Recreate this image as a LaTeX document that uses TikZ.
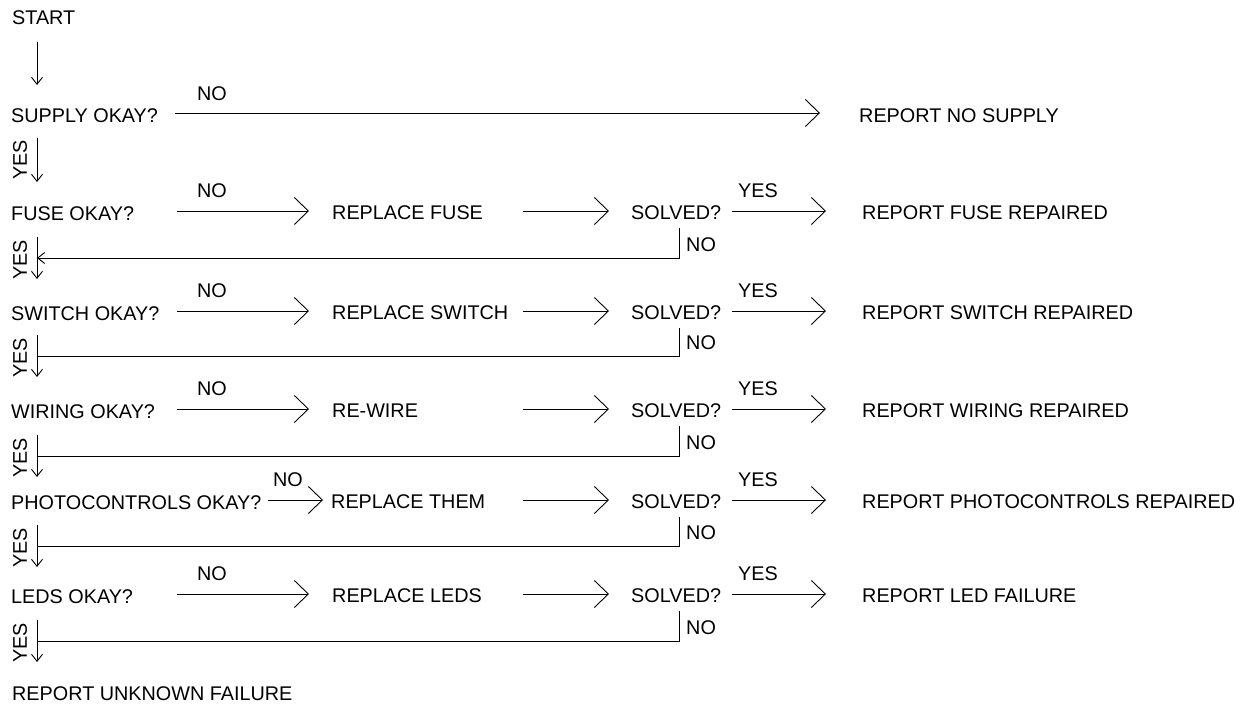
\documentclass[tikz,border=0pt]{standalone}
\usepackage{fontspec}
\setmainfont{Liberation Sans}
\usetikzlibrary{arrows.meta}
\newcommand\dfont{\fontsize{19.8}{24}\selectfont}
\begin{document}
\begin{tikzpicture}[x=1pt,y=-1pt,
  txt/.style={anchor=base west,inner sep=0pt,font=\dfont},
  yeslbl/.style={inner sep=0pt,font=\dfont,rotate=90},
  lnk/.style={line width=0.9pt},
  big/.style={lnk,-{Straight Barb[length=14pt,width=27pt]}},
  small/.style={lnk,-{Straight Barb[length=7pt,width=11pt]}}]
\useasboundingbox (0,0) rectangle (1247,704);
\node[txt] (start) at (12,24) {START};
\node[txt] (q1) at (11,122) {SUPPLY OKAY?};
\node[txt] (rt1) at (859,122) {REPORT NO SUPPLY};
\node[txt] (no1) at (197,100) {NO};
\coordinate (s0) at (37,42); \coordinate (e0) at (37,85);
\draw[small] (s0) -- (e0);
\coordinate (a1) at (175,113); \coordinate (b1) at (820,113);
\draw[big] (a1) -- (b1);
\coordinate (v1a) at (37,138); \coordinate (v1b) at (37,182);
\draw[small] (v1a) -- (v1b);
\node[yeslbl] (y1) at (20,160) {YES};
\foreach \n/\ly/\fy/\qq/\rp/\rt/\ax/\bx/\nox/\rx in {
 2/211/258/FUSE OKAY?/REPLACE FUSE/REPORT FUSE REPAIRED/177/309/197/332,
 3/311/356/SWITCH OKAY?/REPLACE SWITCH/REPORT SWITCH REPAIRED/177/309/197/332,
 4/409/456/WIRING OKAY?/RE-WIRE/REPORT WIRING REPAIRED/177/309/197/332,
 5/500/546/PHOTOCONTROLS OKAY?/REPLACE THEM/REPORT PHOTOCONTROLS REPAIRED/268/323/273/331,
 6/594/641/LEDS OKAY?/REPLACE LEDS/REPORT LED FAILURE/177/309/197/332}{
  \node[txt] (q\n) at (11,\ly+9) {\qq};
  \node[txt] (no\n) at (\nox,\ly-14) {NO};
  \node[txt] (rp\n) at (\rx,\ly+8) {\rp};
  \node[txt] (sv\n) at (631,\ly+8) {SOLVED?};
  \node[txt] (ys\n) at (738,\ly-14) {YES};
  \node[txt] (rt\n) at (862,\ly+8) {\rt};
  \node[txt] (nd\n) at (686,\fy-7) {NO};
  \node[yeslbl] (y\n) at (20,\fy+2) {YES};
  \coordinate (a\n) at (\ax,\ly); \coordinate (b\n) at (\bx,\ly);
  \draw[big] (a\n) -- (b\n);
  \coordinate (c\n) at (523,\ly); \coordinate (d\n) at (609,\ly);
  \draw[big] (c\n) -- (d\n);
  \coordinate (e\n) at (732,\ly); \coordinate (f\n) at (826,\ly);
  \draw[big] (e\n) -- (f\n);
  \coordinate (g\n) at (679,\ly+17); \coordinate (h\n) at (37,\fy);
  \draw[lnk] (g\n) |- (h\n);
  \coordinate (v\n a) at (37,\fy-21); \coordinate (v\n b) at (37,\fy+21);
  \draw[small] (v\n a) -- (v\n b);
}
\coordinate (k2) at (60,258);
\draw[small] (k2) -- (h2);
\node[txt] (unk) at (12,700) {REPORT UNKNOWN FAILURE};
\end{tikzpicture}
\end{document}
